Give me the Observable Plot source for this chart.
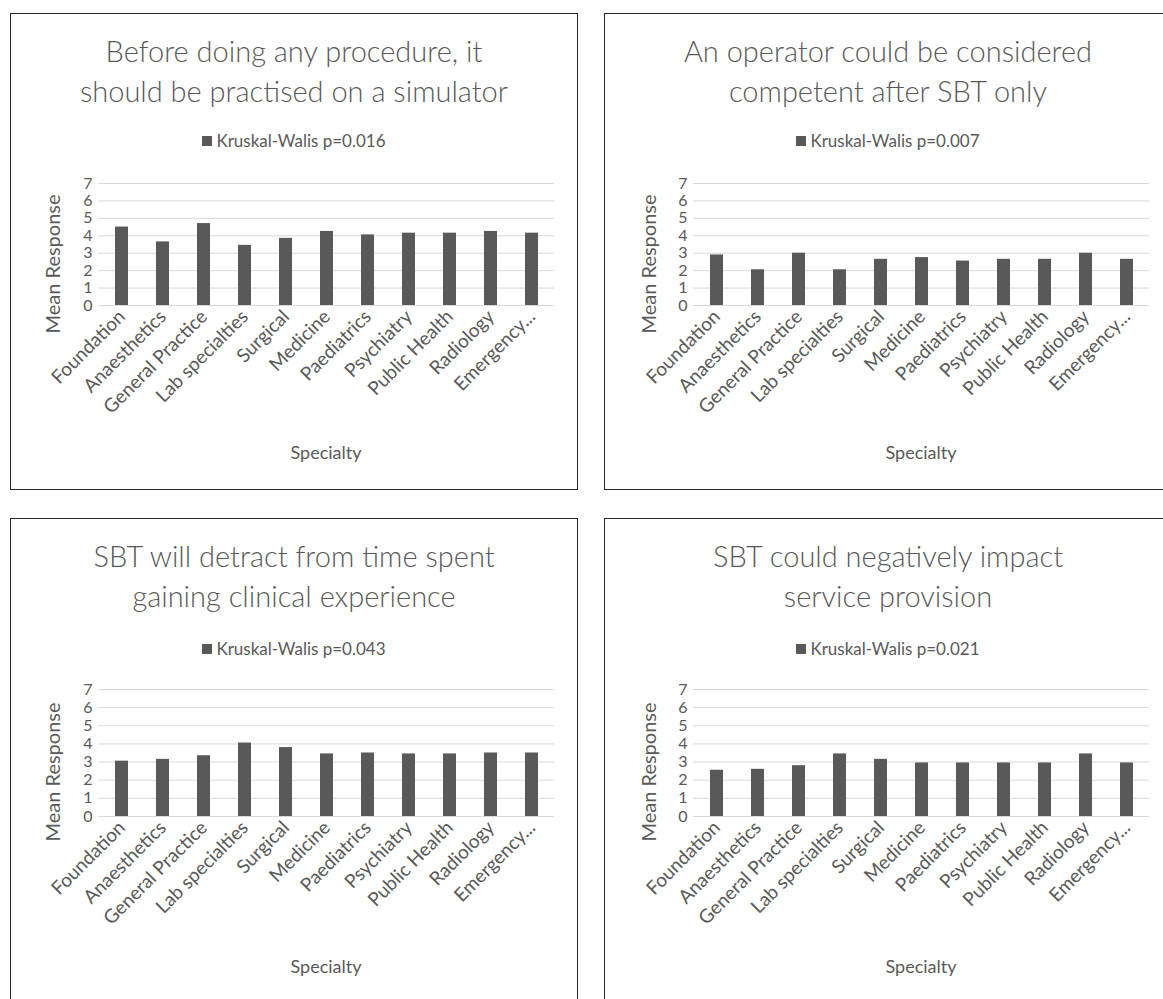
<!DOCTYPE html>
<html><head><meta charset="utf-8">
<script src="https://cdn.jsdelivr.net/npm/d3@7"></script>
<script src="https://cdn.jsdelivr.net/npm/@observablehq/plot@0.6"></script>
<style>
body{margin:0;background:#fff;width:1163px;height:999px;overflow:hidden;position:relative;font-family:Lato,"Open Sans",sans-serif;color:#595959}
.panel{position:absolute;border:1px solid #262626;box-sizing:border-box;background:#fff;overflow:hidden}
.title{position:absolute;left:0;right:0;text-align:center;font-weight:300;font-size:29px;line-height:40px;white-space:nowrap}
.legend{position:absolute;left:0;right:0;display:flex;justify-content:center;align-items:center;font-size:17px;line-height:18px}
.legend .sw{width:10px;height:10px;background:#595959;margin-right:4px}
.ylab{position:absolute;transform:translate(-50%,-50%) rotate(-90deg);white-space:nowrap;font-size:20px;line-height:22px}
.xlab{position:absolute;transform:translate(-50%,-50%);font-size:18px;line-height:20px;white-space:nowrap}
.panel svg{position:absolute;left:0;top:0}
</style></head><body>
<script>
// categories (tick labels as shown)
const specialties = ["Foundation","Anaesthetics","General Practice","Lab specialties","Surgical","Medicine","Paediatrics","Psychiatry","Public Health","Radiology","Emergency..."];
// panel titles
const titles = [
  ["Before doing any procedure, it","should be practised on a simulator"],
  ["An operator could be considered","competent after SBT only"],
  ["SBT will detract from time spent","gaining clinical experience"],
  ["SBT could negatively impact","service provision"]
];
const legendLabels = ["Kruskal-Walis p=0.016","Kruskal-Walis p=0.007","Kruskal-Walis p=0.043","Kruskal-Walis p=0.021"];
// mean responses
const meanSimulator   = [4.5, 3.65, 4.7, 3.45, 3.85, 4.25, 4.05, 4.15, 4.15, 4.25, 4.15];
const meanCompetent   = [2.9, 2.05, 3.0, 2.05, 2.65, 2.75, 2.55, 2.65, 2.65, 3.0, 2.65];
const meanDetract     = [3.05, 3.15, 3.35, 4.05, 3.8, 3.45, 3.5, 3.45, 3.45, 3.5, 3.5];
const meanService     = [2.55, 2.6, 2.8, 3.45, 3.15, 2.95, 2.95, 2.95, 2.95, 3.45, 2.95];
const yTicks = [0,1,2,3,4,5,6,7];
const yLabel = "Mean Response";
const xLabel = "Specialty";

const series = [meanSimulator, meanCompetent, meanDetract, meanService];
const layout = [
  {left:10, top:13, w:568, h:477, ml:87, mr:23, mt:169, mb:184, off:0},
  {left:604, top:13, w:568, h:477, ml:88, mr:22, mt:169, mb:184, off:0},
  {left:10, top:518, w:568, h:490, ml:87, mr:23, mt:170, mb:191, off:3},
  {left:604, top:518, w:568, h:490, ml:88, mr:22, mt:170, mb:191, off:3}
];
const grey = "#595959";

series.forEach((vals, i) => {
  const L = layout[i];
  const panel = document.createElement("div");
  panel.className = "panel";
  Object.assign(panel.style, {left:L.left+"px", top:L.top+"px", width:L.w+"px", height:L.h+"px"});
  document.body.appendChild(panel);

  const data = specialties.map((s, j) => ({specialty: s, value: vals[j]}));
  const chart = Plot.plot({
    width: L.w - 2, height: L.h - 2,
    marginLeft: L.ml, marginRight: L.mr, marginTop: L.mt, marginBottom: L.mb,
    style: {fontFamily: "Lato, 'Open Sans', sans-serif", color: grey, background: "transparent", overflow: "visible"},
    x: {domain: specialties, paddingInner: 0.69, paddingOuter: 0.345, axis: null},
    y: {domain: [0, 7], axis: null},
    marks: [
      Plot.gridY(yTicks, {stroke: "#d9d9d9", strokeOpacity: 1, strokeWidth: 1}),
      Plot.axisY(yTicks, {tickSize: 0, tickPadding: 6, fontSize: 16, fill: grey, label: null, tickFormat: d => String(d)}),
      Plot.axisX({tickRotate: -45, tickSize: 0, tickPadding: 8, fontSize: 19, fill: grey, label: null}),
      Plot.barY(data, {x: "specialty", y: "value", fill: grey})
    ]
  });
  panel.appendChild(chart);

  const t = document.createElement("div");
  t.className = "title";
  t.style.top = "17px";
  t.innerHTML = titles[i].map(s => `<div>${s}</div>`).join("");
  panel.appendChild(t);

  const lg = document.createElement("div");
  lg.className = "legend";
  lg.style.top = (118 + L.off) + "px";
  lg.innerHTML = `<span class="sw"></span><span>${legendLabels[i]}</span>`;
  panel.appendChild(lg);

  const yl = document.createElement("div");
  yl.className = "ylab";
  yl.style.left = (i % 2 === 0 ? 41 : 43) + "px";
  yl.style.top = (250 + L.off) + "px";
  yl.textContent = yLabel;
  panel.appendChild(yl);

  const xl = document.createElement("div");
  xl.className = "xlab";
  xl.style.left = (L.ml + (L.w - 2 - L.ml - L.mr) / 2) + "px";
  xl.style.top = (438 + L.off * 3) + "px";
  xl.textContent = xLabel;
  panel.appendChild(xl);
});
</script>
</body></html>
